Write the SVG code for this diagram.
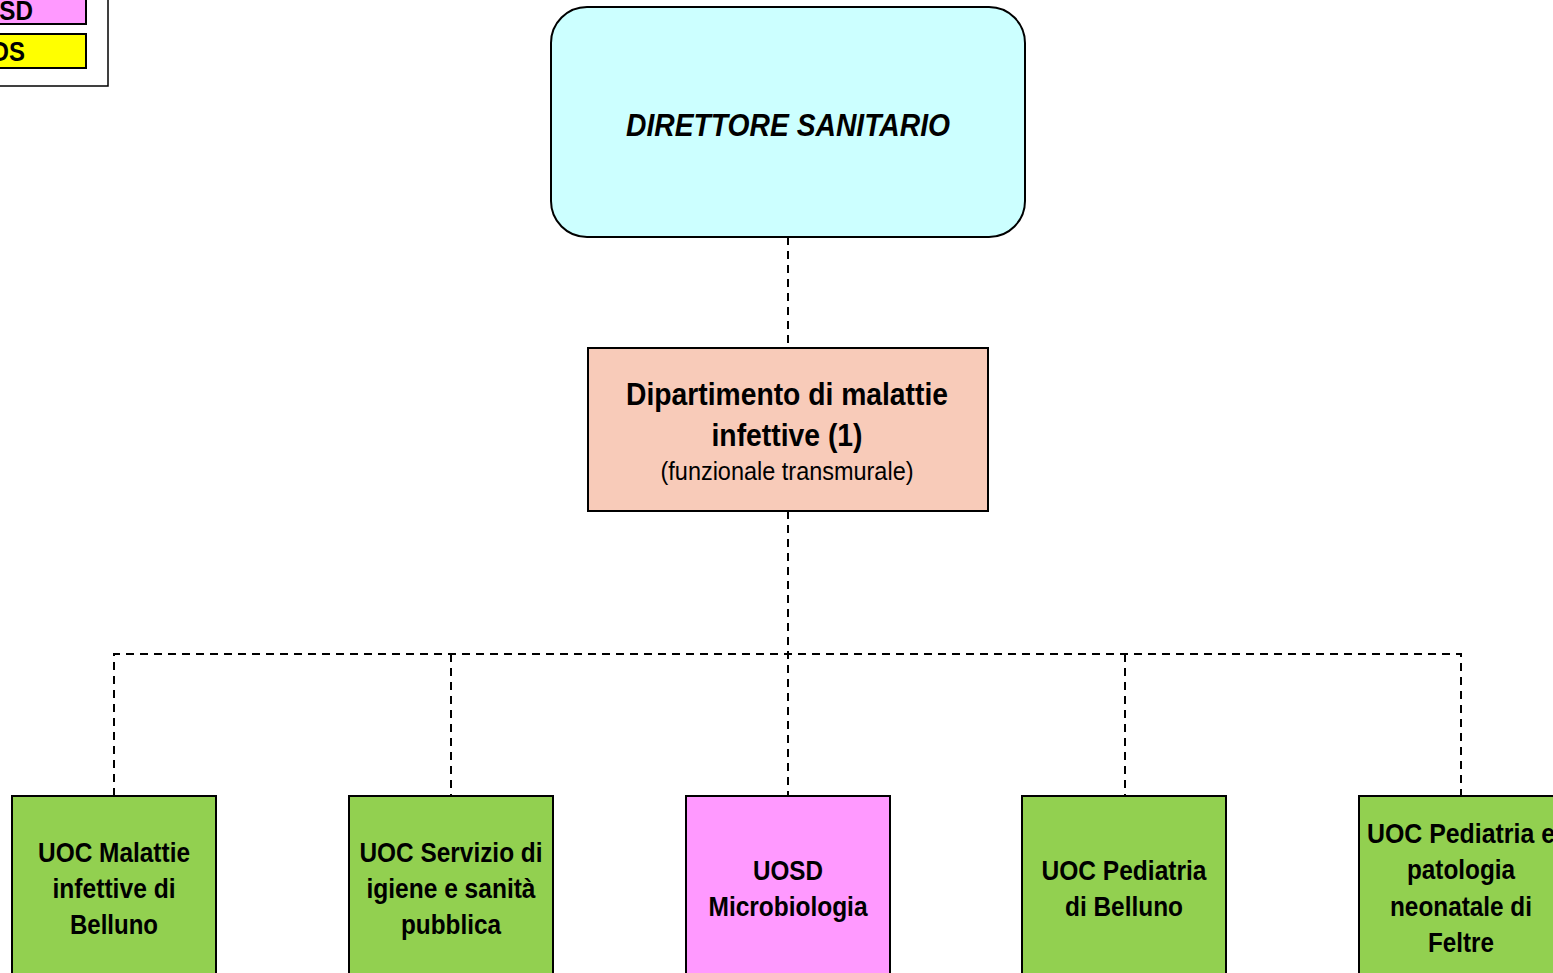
<svg xmlns="http://www.w3.org/2000/svg" width="1553" height="973" viewBox="0 0 1553 973">
<style>
.t{font-family:"Liberation Sans",Arial,sans-serif;font-weight:bold;fill:#000;text-anchor:middle;font-size:28px}
.box{stroke:#000;stroke-width:2}
.green{fill:#92D050}
.pink{fill:#FF99FF}
.c{fill:none;stroke:#000;stroke-width:2;stroke-dasharray:8,6}
</style>
<rect width="1553" height="973" fill="#fff"/>
<g id="legend">
<rect x="-20" y="-10" width="128" height="96" fill="#fff" stroke="#000" stroke-width="1.5"/>
<rect class="box pink" x="-20" y="-10" width="106" height="34"/>
<rect class="box" x="-20" y="34" width="106" height="34" fill="#FFFF00"/>
<text class="t" x="33" y="20" style="text-anchor:end" textLength="70" lengthAdjust="spacingAndGlyphs">UOSD</text>
<text class="t" x="25" y="61" style="text-anchor:end" textLength="52" lengthAdjust="spacingAndGlyphs">UOS</text>
</g>
<g id="connectors">
<path class="c" d="M788,237 V348"/>
<path class="c" d="M788,511 V796"/>
<path class="c" d="M114,796 V654 H1461 V796"/>
<path class="c" d="M451,654 V796"/>
<path class="c" d="M1125,654 V796"/>
</g>
<g id="direttore">
<rect class="box" x="551" y="7" width="474" height="230" rx="36" fill="#CCFFFF"/>
<text class="t" x="788" y="136" style="font-size:32px" font-style="italic" textLength="324" lengthAdjust="spacingAndGlyphs">DIRETTORE SANITARIO</text>
</g>
<g id="dipartimento">
<rect class="box" x="588" y="348" width="400" height="163" fill="#F8CBB9"/>
<text class="t" x="787" y="405" style="font-size:31px" textLength="322" lengthAdjust="spacingAndGlyphs">Dipartimento di malattie</text>
<text class="t" x="787" y="446" style="font-size:31px" textLength="151" lengthAdjust="spacingAndGlyphs">infettive (1)</text>
<text class="t" x="787" y="480" style="font-size:25px;font-weight:normal" textLength="253" lengthAdjust="spacingAndGlyphs">(funzionale transmurale)</text>
</g>
<g id="uoc-malattie">
<rect class="box green" x="12" y="796" width="204" height="190"/>
<text class="t" x="114" y="862" textLength="152" lengthAdjust="spacingAndGlyphs">UOC Malattie</text>
<text class="t" x="114" y="898" textLength="123" lengthAdjust="spacingAndGlyphs">infettive di</text>
<text class="t" x="114" y="934" textLength="88" lengthAdjust="spacingAndGlyphs">Belluno</text>
</g>
<g id="uoc-igiene">
<rect class="box green" x="349" y="796" width="204" height="190"/>
<text class="t" x="451" y="862" textLength="183" lengthAdjust="spacingAndGlyphs">UOC Servizio di</text>
<text class="t" x="451" y="898" textLength="169" lengthAdjust="spacingAndGlyphs">igiene e sanità</text>
<text class="t" x="451" y="934" textLength="100" lengthAdjust="spacingAndGlyphs">pubblica</text>
</g>
<g id="uosd-microbiologia">
<rect class="box pink" x="686" y="796" width="204" height="190"/>
<text class="t" x="788" y="880" textLength="70" lengthAdjust="spacingAndGlyphs">UOSD</text>
<text class="t" x="788" y="916" textLength="159" lengthAdjust="spacingAndGlyphs">Microbiologia</text>
</g>
<g id="uoc-pediatria-belluno">
<rect class="box green" x="1022" y="796" width="204" height="190"/>
<text class="t" x="1124" y="880" textLength="165" lengthAdjust="spacingAndGlyphs">UOC Pediatria</text>
<text class="t" x="1124" y="916" textLength="118" lengthAdjust="spacingAndGlyphs">di Belluno</text>
</g>
<g id="uoc-pediatria-feltre">
<rect class="box green" x="1359" y="796" width="204" height="190"/>
<text class="t" x="1461" y="843" textLength="188" lengthAdjust="spacingAndGlyphs">UOC Pediatria e</text>
<text class="t" x="1461" y="879" textLength="108" lengthAdjust="spacingAndGlyphs">patologia</text>
<text class="t" x="1461" y="916" textLength="142" lengthAdjust="spacingAndGlyphs">neonatale di</text>
<text class="t" x="1461" y="952" textLength="66" lengthAdjust="spacingAndGlyphs">Feltre</text>
</g>
</svg>
